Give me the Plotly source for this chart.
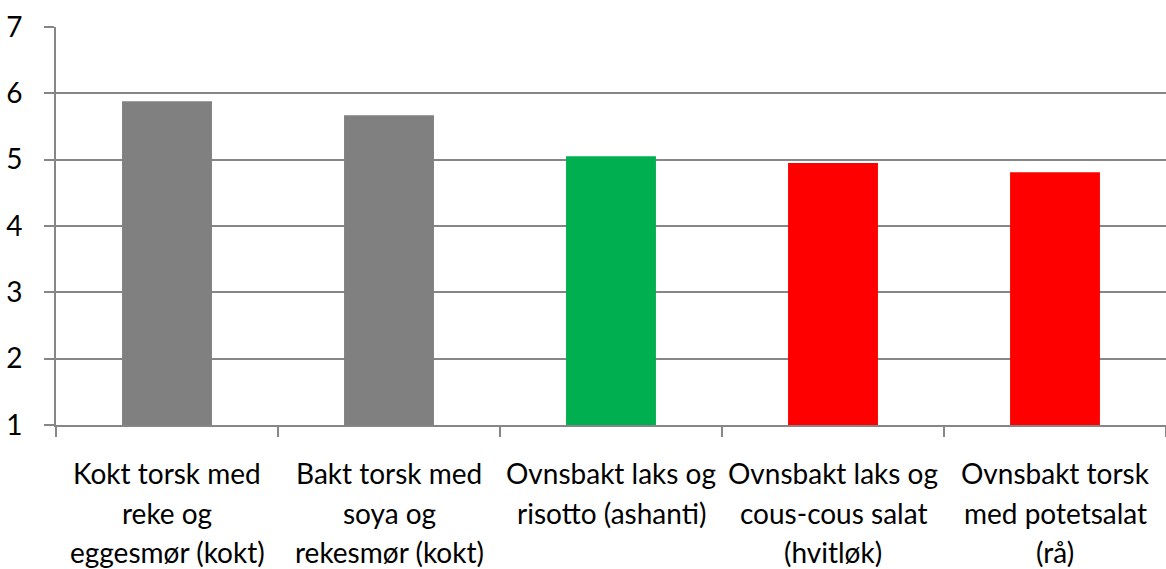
import plotly.graph_objects as go

# Dados
retter = [
    "Kokt torsk med reke og eggesmør (kokt)",
    "Bakt torsk med soya og rekesmør (kokt)",
    "Ovnsbakt laks og risotto (ashanti)",
    "Ovnsbakt laks og cous-cous salat (hvitløk)",
    "Ovnsbakt torsk med potetsalat (rå)",
]
etikett_linjer = [
    ["Kokt torsk med", "reke og", "eggesmør (kokt)"],
    ["Bakt torsk med", "soya og", "rekesmør (kokt)"],
    ["Ovnsbakt laks og", "risotto (ashanti)"],
    ["Ovnsbakt laks og", "cous-cous salat", "(hvitløk)"],
    ["Ovnsbakt torsk", "med potetsalat", "(rå)"],
]
verdier = [5.88, 5.67, 5.05, 4.95, 4.81]
farger = ["#808080", "#808080", "#00B050", "#FF0000", "#FF0000"]

grid = "#868686"
fonte = "Lato, Carlito, sans-serif"

fig = go.Figure()
fig.add_trace(go.Bar(x=retter, y=verdier, marker=dict(color=farger, line=dict(width=0)), width=0.405))

# Rótulos do eixo x em várias linhas (espaçamento de linha maior que o padrão do plotly)
for cat, linhas in zip(retter, etikett_linjer):
    for i, txt in enumerate(linhas):
        fig.add_annotation(
            x=cat, xref="x", y=0, yref="paper",
            text=txt, showarrow=False,
            xanchor="center", yanchor="middle",
            yshift=-48 - 39.5 * i,
            font=dict(family=fonte, size=28, color="black"),
        )

fig.update_layout(
    width=1166, height=569,
    paper_bgcolor="white", plot_bgcolor="white",
    margin=dict(l=56, r=0, t=27, b=144),
    font=dict(family=fonte, size=28, color="black"),
    showlegend=False,
)

fig.update_xaxes(
    showline=True, linecolor=grid, linewidth=2,
    ticks="outside", tickson="boundaries", ticklen=10, tickcolor=grid, tickwidth=2,
    showgrid=False, showticklabels=False, automargin=False,
)
fig.update_yaxes(
    range=[1, 7], dtick=1, tick0=1,
    showline=True, linecolor=grid, linewidth=2,
    ticks="outside", ticklen=10, tickcolor=grid, tickwidth=2,
    showgrid=True, gridcolor=grid, gridwidth=2,
    zeroline=False, ticklabelstandoff=16, automargin=False,
)

# remove a margem padrão do <body> para a figura ocupar a janela toda
fig.write_html(
    "out.html",
    config={"displayModeBar": False},
    post_script="document.body.style.margin='0';",
)
